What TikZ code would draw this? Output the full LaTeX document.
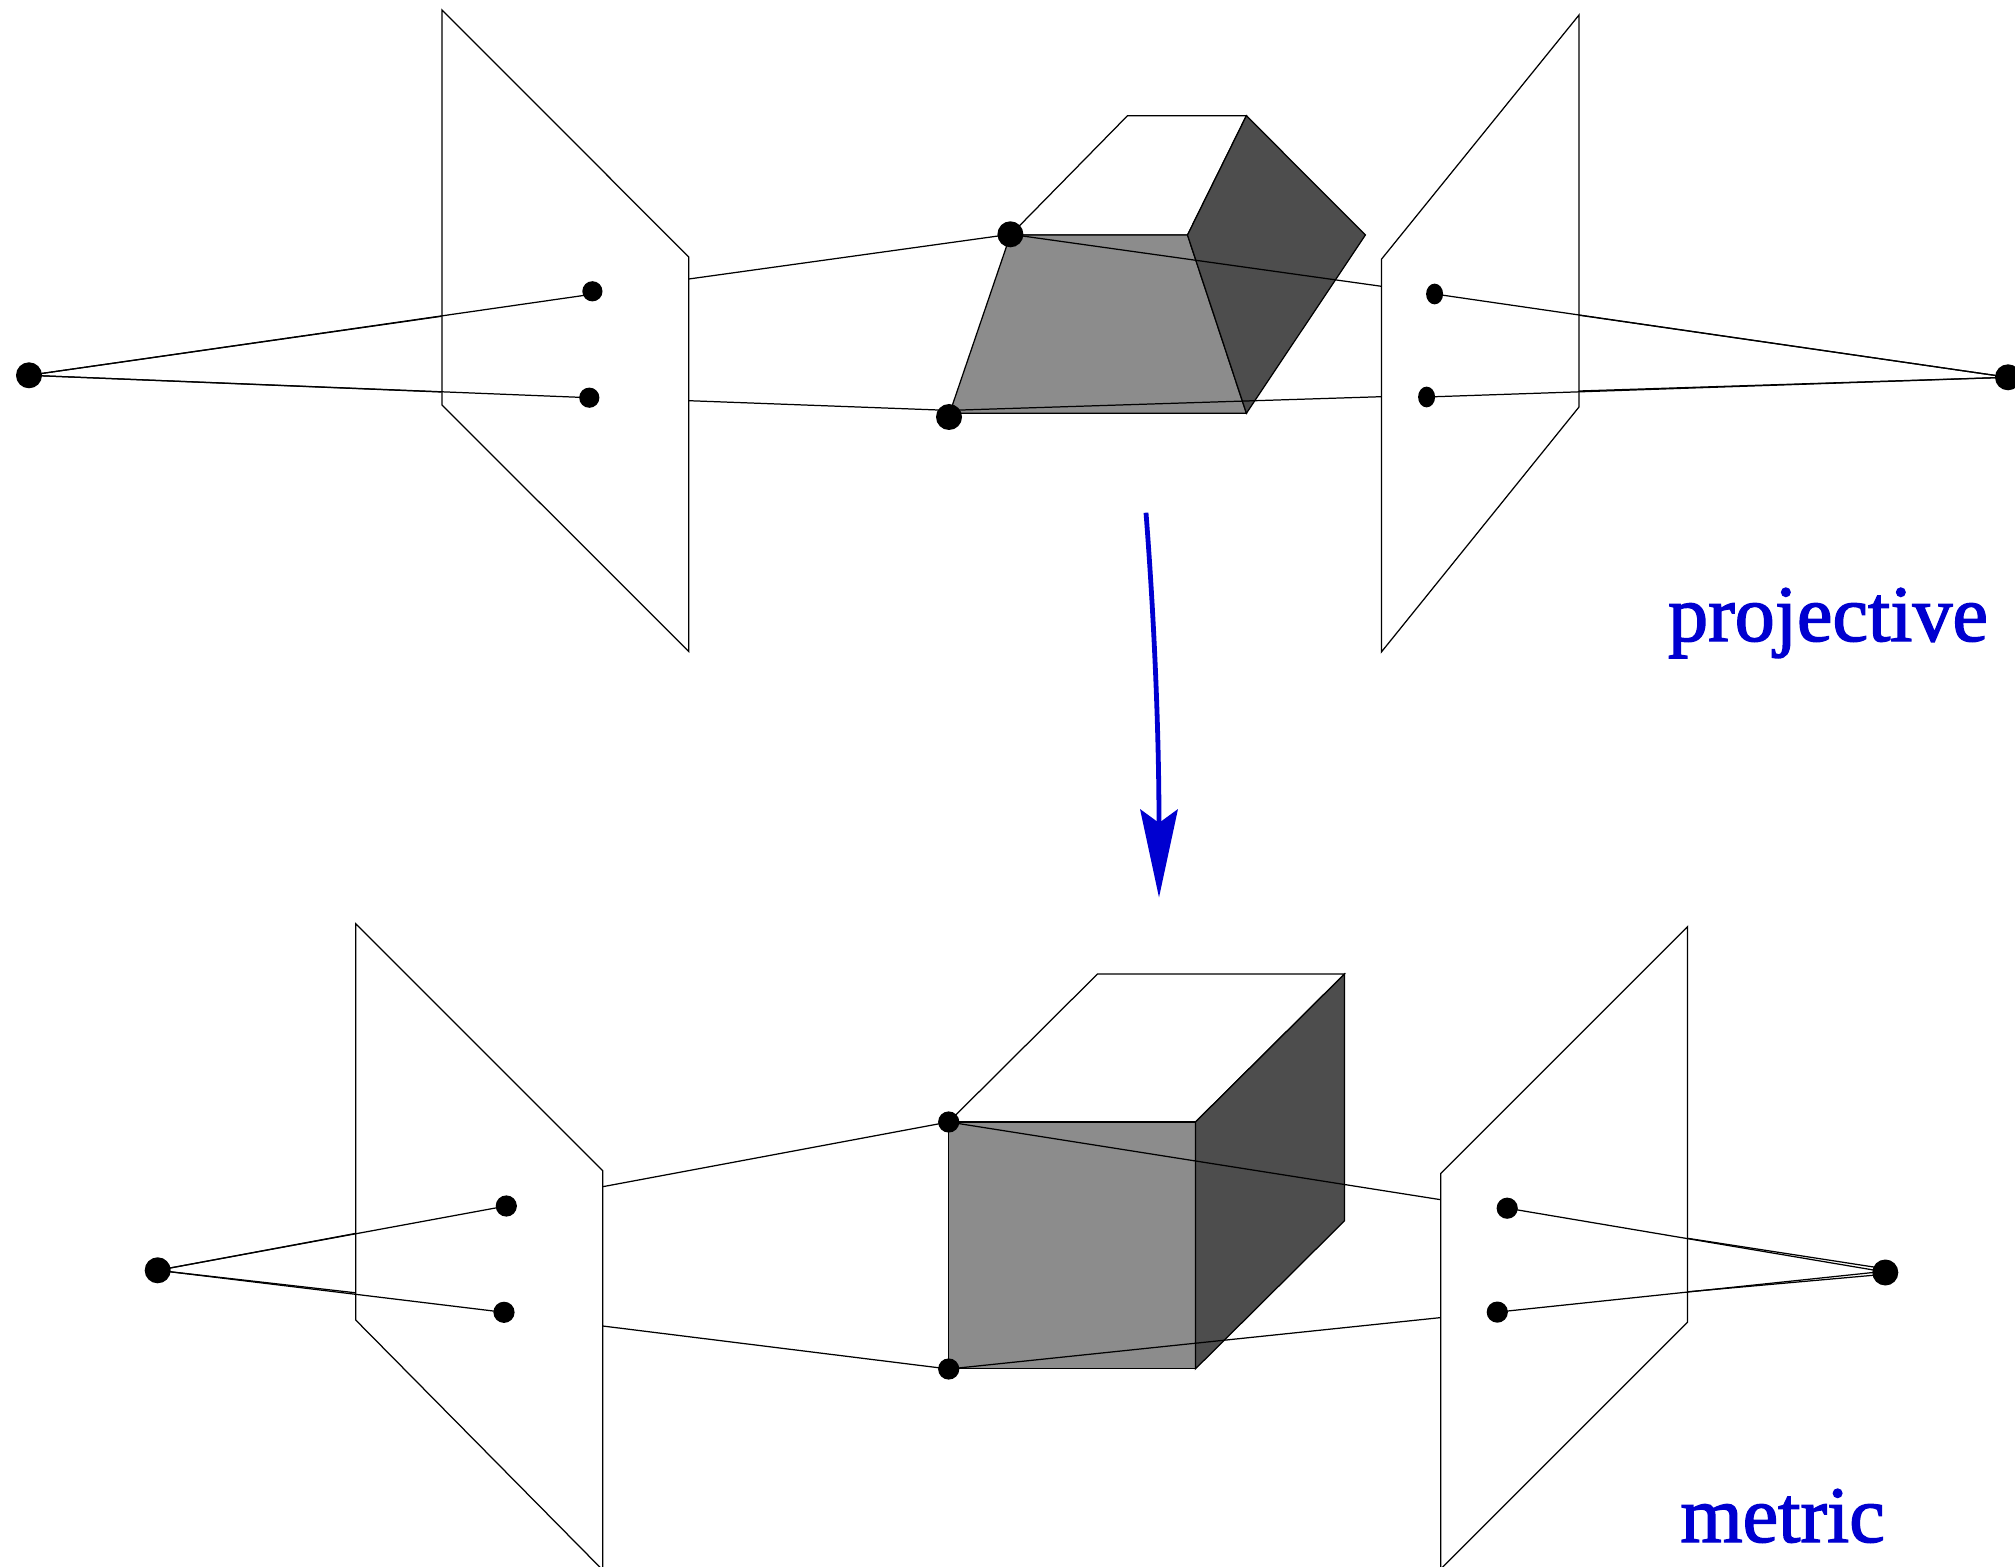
\documentclass[tikz,border=0pt]{standalone}
\usepackage{fontspec}
\setmainfont{Liberation Serif}
\newfontfamily\tagfont[FakeBold=1.8]{Liberation Serif}
\usetikzlibrary{arrows.meta}
\definecolor{labelblue}{RGB}{0,0,208}
\definecolor{frontgray}{RGB}{140,140,140}
\definecolor{sidegray}{RGB}{77,77,77}
\tikzset{
  edge/.style={draw=black,line width=0.62pt,line join=miter},
  plane/.style={edge,fill=none},
  frontface/.style={edge,fill=frontgray},
  sideface/.style={edge,fill=sidegray},
  topface/.style={edge,fill=white},
  ray/.style={draw=black,line width=0.62pt},
  bigdot/.style={circle,fill=black,draw=none,inner sep=0pt,minimum size=13pt},
  middot/.style={circle,fill=black,draw=none,inner sep=0pt,minimum size=10.6pt},
  smalldot/.style={circle,fill=black,draw=none,inner sep=0pt,minimum size=10.1pt},
  ovaldot/.style={circle,fill=black,draw=none,inner sep=0pt,minimum size=8.5pt,yscale=1.22},
  tagtext/.style={anchor=base west,inner sep=0pt,text=labelblue,font=\tagfont\fontsize{40}{48}\selectfont},
  bluearrow/.style={draw=labelblue,line width=2.4pt,-{Stealth[length=44pt,width=18.7pt,inset=6.7pt]}},
}
\begin{document}
\begin{tikzpicture}[x=0.5pt,y=-0.5pt]
\useasboundingbox (0,0) rectangle (2015,1567);
% --- upper scene ---
\draw[plane] (442,10) -- (688.8,257) -- (688.8,651.5) -- (442,405) -- cycle;
\draw[plane] (1381.4,259.3) -- (1579,15) -- (1579,407) -- (1381.4,652) -- cycle;
\draw[topface] (1010.4,235) -- (1127.5,115.7) -- (1246.4,115.7) -- (1187.5,235) -- cycle;
\draw[frontface] (1010.4,235) -- (1187.5,235) -- (1246.4,413.3) -- (949.6,413.3) -- cycle;
\draw[sideface] (1187.5,235) -- (1246.4,115.7) -- (1365.4,235) -- (1246.4,413.3) -- cycle;
\node[bigdot] (cl) at (29,375.3) {};
\node[bigdot] (cr) at (2008,377.3) {};
\node[bigdot] (a) at (1010.4,234.3) {};
\node[bigdot] (b) at (949,417) {};
\node[smalldot] (l1) at (592.4,291.3) {};
\node[smalldot] (l2) at (589.3,397.7) {};
\node[ovaldot] (r1) at (1434.6,294) {};
\node[ovaldot] (r2) at (1426.6,397) {};
\coordinate (l1in) at (592.4,294.2);
\coordinate (bin) at (949,410.4);
\coordinate (ple1) at (441.5,316.3);
\coordinate (ple2) at (441.5,392);
\coordinate (pla1) at (688.8,279);
\coordinate (pla2) at (688.8,400.7);
\coordinate (pra1) at (1381.4,286.3);
\coordinate (pra2) at (1381.4,396.7);
\coordinate (pre1) at (1579,315.2);
\coordinate (pre2) at (1579,391);
\draw[ray] (cl.center) -- (l1in);
\draw[ray] (cl.center) -- (l2.center);
\draw[ray] (cl.center) -- (ple1);
\draw[ray] (cl.center) -- (ple2);
\draw[ray] (pla1) -- (a.center);
\draw[ray] (pla2) -- (bin);
\draw[ray] (a.center) -- (pra1);
\draw[ray] (bin) -- (pra2);
\draw[ray] (r1.center) -- (cr.center);
\draw[ray] (r2.center) -- (cr.center);
\draw[ray] (pre1) -- (cr.center);
\draw[ray] (pre2) -- (cr.center);
\node[tagtext] (proj) at (1667.7,641) {projective};
% --- arrow ---
\coordinate (arrowstart) at (1146,512.7);
\coordinate (arrowtip) at (1159,897.5);
\draw[bluearrow] (arrowstart) .. controls (1155,630) and (1159,740) .. (arrowtip);
% --- lower scene ---
\draw[plane] (355.7,923.8) -- (602.7,1170.7) -- (602.7,1570) -- (355.7,1320) -- cycle;
\draw[plane] (1440.7,1173.6) -- (1687.6,926.6) -- (1687.6,1322.2) -- (1440.7,1569) -- cycle;
\draw[topface] (948.7,1122) -- (1097.5,974) -- (1344.5,974) -- (1195.5,1122) -- cycle;
\draw[frontface] (948.7,1122) -- (1195.5,1122) -- (1195.5,1368.8) -- (948.7,1368.8) -- cycle;
\draw[sideface] (1195.5,1122) -- (1344.5,974) -- (1344.5,1220.8) -- (1195.5,1368.8) -- cycle;
\node[bigdot] (dl) at (157.7,1270.3) {};
\node[bigdot] (dr) at (1885.3,1272.5) {};
\node[middot] (e) at (948.7,1122) {};
\node[middot] (f) at (948.7,1369) {};
\node[middot] (m1) at (506.3,1206) {};
\node[middot] (m2) at (504,1312.3) {};
\node[middot] (n1) at (1507.2,1208.2) {};
\node[middot] (n2) at (1497.3,1312.1) {};
\coordinate (qle1) at (355.7,1233.4);
\coordinate (qle2) at (355.7,1292.8);
\coordinate (qla1) at (602.7,1186.7);
\coordinate (qla2) at (602.7,1326);
\coordinate (qra1) at (1440.7,1199.7);
\coordinate (qra2) at (1440.7,1317.6);
\coordinate (qre1) at (1687.6,1238.3);
\coordinate (qre2) at (1687.6,1291.8);
\coordinate (dra) at (1885.3,1268.8);
\coordinate (drb) at (1885.3,1272);
\coordinate (drc) at (1885.3,1271.2);
\coordinate (drd) at (1885.3,1274.2);
\draw[ray] (dl.center) -- (m1.center);
\draw[ray] (dl.center) -- (m2.center);
\draw[ray] (dl.center) -- (qle1);
\draw[ray] (dl.center) -- (qle2);
\draw[ray] (qla1) -- (e.center);
\draw[ray] (qla2) -- (f.center);
\draw[ray] (e.center) -- (qra1);
\draw[ray] (f.center) -- (qra2);
\draw[ray] (n1.center) -- (drb);
\draw[ray] (n2.center) -- (drc);
\draw[ray] (qre1) -- (dra);
\draw[ray] (qre2) -- (drd);
\node[tagtext] (metr) at (1680,1542) {metric};
\end{tikzpicture}
\end{document}
